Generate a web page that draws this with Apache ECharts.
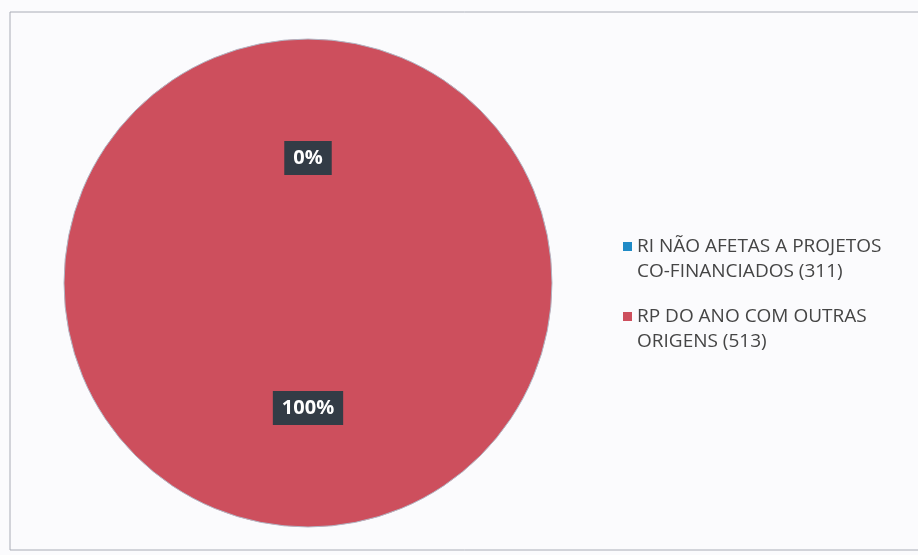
<!DOCTYPE html>
<html>
<head>
<meta charset="utf-8">
<script src="https://cdn.jsdelivr.net/npm/echarts@6/dist/echarts.min.js"></script>
<style>
  html, body { margin: 0; padding: 0; background: #fbfbfd; }
  #chart { width: 918px; height: 555px; }
</style>
</head>
<body>
<div id="chart"></div>
<script>
// categories and values
var categories = ['RI NÃO AFETAS A PROJETOS\nCO-FINANCIADOS (311)', 'RP DO ANO COM OUTRAS\nORIGENS (513)']
var values = [0, 513]
var colors = ['#1f8ac6', '#cd4f5d']

var chart = echarts.init(document.getElementById('chart'))

chart.setOption({
  backgroundColor: '#fbfbfd',
  animation: false,
  graphic: [{
    type: 'rect',
    shape: { x: 10, y: 12, width: 930, height: 538 },
    style: { fill: 'none', stroke: '#a9acb6', lineWidth: 1 }
  }],
  legend: {
    orient: 'vertical',
    left: 618,
    top: 229,
    itemWidth: 9,
    itemHeight: 34,
    itemGap: 20,
    // square sits at the top of a tall box so it lines up with the first text line
    icon: 'path://M0,0h9v9h-9zM0,34h0.01',
    itemStyle: { borderWidth: 0 },
    textStyle: {
      fontFamily: 'Open Sans',
      fontSize: 19,
      color: '#454545',
      lineHeight: 25
    },
    data: categories
  },
  series: [{
    type: 'pie',
    center: [308, 283],
    radius: 244,
    startAngle: 90,
    clockwise: true,
    avoidLabelOverlap: false,
    label: {
      show: true,
      position: 'inside',
      formatter: function (p) { return Math.round(p.percent) + '%' },
      fontFamily: 'Open Sans',
      fontWeight: 'bold',
      fontSize: 20,
      color: '#ffffff',
      backgroundColor: '#333c46',
      padding: [8, 9, 6, 9]
    },
    labelLine: { show: false },
    data: categories.map(function (name, i) {
      return {
        name: name,
        value: values[i],
        itemStyle: {
          color: colors[i],
          borderColor: '#b3b6c4',
          borderWidth: 1
        }
      }
    })
  }]
})
</script>
</body>
</html>
